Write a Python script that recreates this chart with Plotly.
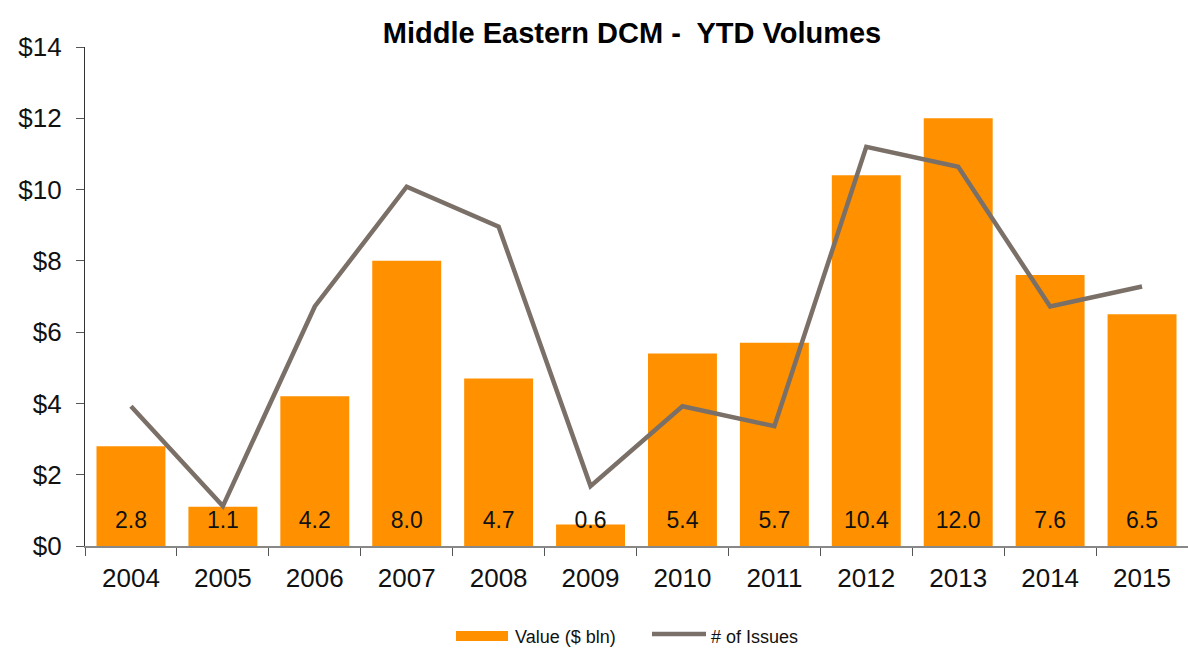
import plotly.graph_objects as go

years = ["2004", "2005", "2006", "2007", "2008", "2009",
         "2010", "2011", "2012", "2013", "2014", "2015"]
value_bln = [2.8, 1.1, 4.2, 8.0, 4.7, 0.6, 5.4, 5.7, 10.4, 12.0, 7.6, 6.5]
num_issues = [7, 2, 12, 18, 16, 3, 7, 6, 20, 19, 12, 13]
y_ticks = [0, 2, 4, 6, 8, 10, 12, 14]
y_tick_text = [f"${v}" for v in y_ticks]

ORANGE = "#FF9100"
GREY = "#7A7068"
FONT = "Liberation Sans, Arial, sans-serif"

W, H = 1188, 650
ML, MR, MT, MB = 85, 0, 47, 104
PW, PH = W - ML - MR, H - MT - MB


def px(x):
    return (x - ML) / PW


def py(y):
    return (H - MB - y) / PH


fig = go.Figure()

fig.add_trace(go.Bar(
    x=years, y=value_bln, name="Value ($ bln)",
    marker=dict(color=ORANGE, line=dict(width=0)),
    showlegend=False, yaxis="y",
))

# value labels sit just above the baseline of each bar
fig.add_trace(go.Scatter(
    x=years, y=[0.67] * len(years), mode="text",
    text=[f"{v:.1f}" for v in value_bln],
    textfont=dict(family=FONT, size=23, color="#111111"),
    showlegend=False, hoverinfo="skip", yaxis="y",
))

fig.add_trace(go.Scatter(
    x=years, y=num_issues, name="# of Issues", mode="lines",
    line=dict(color=GREY, width=4.5),
    showlegend=False, yaxis="y2",
))

# legend drawn below the axis: wide swatches like the house style
fig.add_shape(type="rect", xref="paper", yref="paper",
              x0=px(456), x1=px(508), y0=py(641), y1=py(631),
              fillcolor=ORANGE, line=dict(width=0))
fig.add_shape(type="line", xref="paper", yref="paper",
              x0=px(652), x1=px(706), y0=py(634), y1=py(634),
              line=dict(color=GREY, width=4.5))
fig.add_annotation(text="Value ($ bln)", xref="paper", yref="paper",
                   x=px(513), y=py(637), xanchor="left", yanchor="middle",
                   showarrow=False, font=dict(family=FONT, size=18, color="#111111"))
fig.add_annotation(text="# of Issues", xref="paper", yref="paper",
                   x=px(709), y=py(637), xanchor="left", yanchor="middle",
                   showarrow=False, font=dict(family=FONT, size=18, color="#111111"))

fig.update_layout(
    width=W, height=H,
    margin=dict(l=ML, r=MR, t=MT, b=MB, autoexpand=False),
    paper_bgcolor="white", plot_bgcolor="white",
    font=dict(family=FONT, color="#111111"),
    title=dict(text="<b>Middle Eastern DCM -  YTD Volumes</b>",
               font=dict(family=FONT, size=29, color="black"),
               x=0.532, xanchor="center", y=0.95, yanchor="middle"),
    bargap=0.25,
    showlegend=False,
    xaxis=dict(
        type="category", range=[-0.5, len(years) - 0.5],
        tickson="boundaries", ticks="outside", ticklen=8,
        tickcolor="#555555", showline=True, linecolor="#888888", linewidth=1.5,
        tickfont=dict(family=FONT, size=26, color="#111111"),
        showgrid=False, zeroline=False, ticklabelstandoff=8,
    ),
    yaxis=dict(
        range=[0, 14], tickvals=y_ticks, ticktext=y_tick_text,
        ticks="outside", ticklen=8, tickcolor="#555555",
        showline=True, linecolor="#333333", linewidth=1.2,
        tickfont=dict(family=FONT, size=26, color="#111111"),
        showgrid=False, zeroline=False, ticklabelstandoff=9,
    ),
    yaxis2=dict(range=[0, 25], overlaying="y", visible=False),
)

fig.write_html("out.html")
